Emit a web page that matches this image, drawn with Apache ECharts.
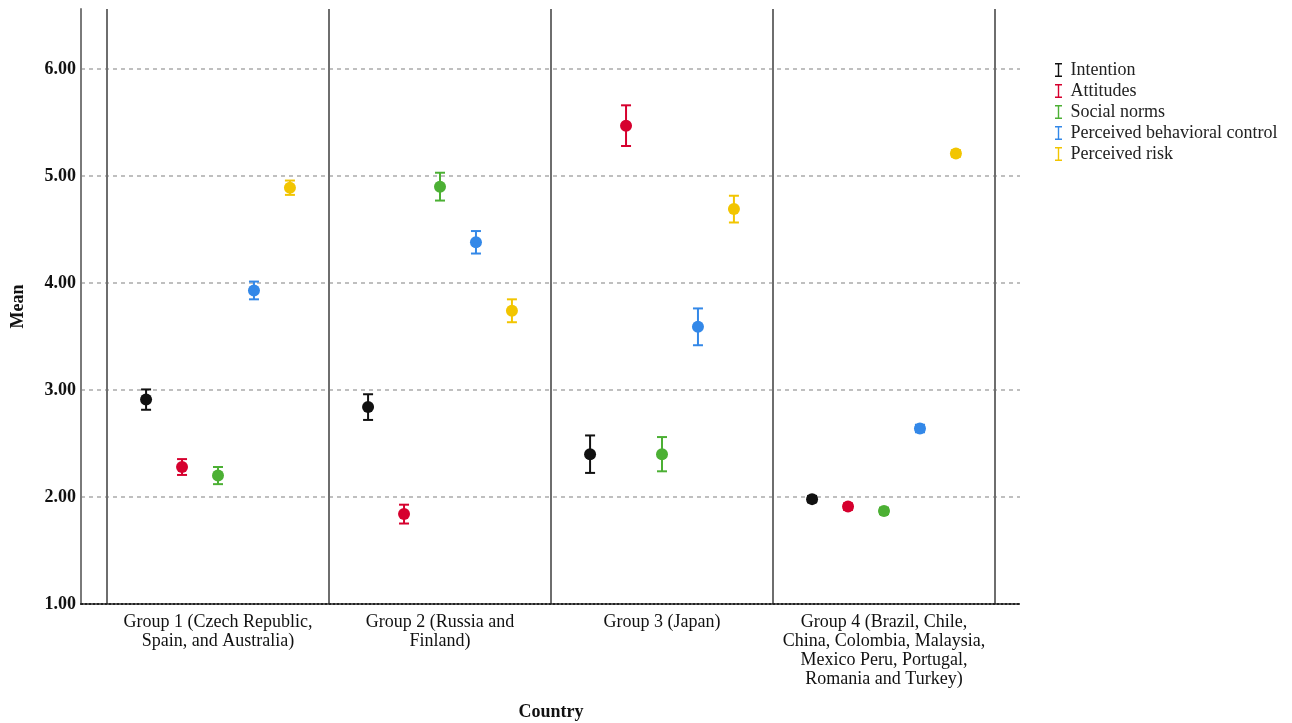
<!DOCTYPE html>
<html>
<head>
<meta charset="utf-8">
<script src="https://cdn.jsdelivr.net/npm/echarts@6/dist/echarts.min.js"></script>
<style>html,body{margin:0;padding:0;background:#fff}#c{width:1292px;height:723px}</style>
</head>
<body>
<div id="c"></div>
<script>
const categories = [
  'Group 1 (Czech Republic,\nSpain, and Australia)',
  'Group 2 (Russia and\nFinland)',
  'Group 3 (Japan)',
  'Group 4 (Brazil, Chile,\nChina, Colombia, Malaysia,\nMexico Peru, Portugal,\nRomania and Turkey)'
];
const seriesNames = ['Intention', 'Attitudes', 'Social norms', 'Perceived behavioral control', 'Perceived risk'];
const seriesColors = ['#111111', '#d6002e', '#4cb034', '#3388e8', '#f2c500'];
// means per series, one value per group
const intentionMean = [2.91, 2.84, 2.40, 1.98];
const attitudesMean = [2.28, 1.84, 5.47, 1.91];
const normsMean = [2.20, 4.90, 2.40, 1.87];
const pbcMean = [3.93, 4.38, 3.59, 2.64];
const riskMean = [4.89, 3.74, 4.69, 5.21];
// half-width of the error bars
const intentionErr = [0.095, 0.12, 0.175, 0.03];
const attitudesErr = [0.074, 0.088, 0.19, 0.03];
const normsErr = [0.08, 0.13, 0.16, 0.03];
const pbcErr = [0.083, 0.105, 0.172, 0.035];
const riskErr = [0.067, 0.107, 0.125, 0.03];
const yTicks = [1, 2, 3, 4, 5, 6];

const means = [intentionMean, attitudesMean, normsMean, pbcMean, riskMean];
const errs = [intentionErr, attitudesErr, normsErr, pbcErr, riskErr];

const serif = 'Liberation Serif';
const chart = echarts.init(document.getElementById('c'), null, {renderer: 'canvas'});

function makeRender(si) {
  return function (params, api) {
    const x = api.value(0);
    const c = api.coord([x, api.value(1)]);
    const lo = api.coord([x, api.value(2)]);
    const hi = api.coord([x, api.value(3)]);
    const bw = api.size([1, 0])[0];
    const dx = (si - 2) * bw * 0.162;
    const cx = c[0] + dx;
    const col = seriesColors[si];
    const cap = 5;
    const ls = {stroke: col, lineWidth: 2, fill: null};
    return {
      type: 'group',
      children: [
        {type: 'line', shape: {x1: cx, y1: hi[1], x2: cx, y2: lo[1]}, style: ls},
        {type: 'line', shape: {x1: cx - cap, y1: hi[1], x2: cx + cap, y2: hi[1]}, style: ls},
        {type: 'line', shape: {x1: cx - cap, y1: lo[1], x2: cx + cap, y2: lo[1]}, style: ls},
        {type: 'circle', shape: {cx: cx, cy: c[1], r: 6}, style: {fill: col}}
      ]
    };
  };
}

const series = seriesNames.map((name, si) => ({
  name: name,
  type: 'custom',
  xAxisIndex: 0,
  yAxisIndex: 0,
  itemStyle: {color: seriesColors[si]},
  renderItem: makeRender(si),
  encode: {x: 0, y: [1, 2, 3]},
  data: categories.map((cat, gi) => [gi, means[si][gi], means[si][gi] - errs[si][gi], means[si][gi] + errs[si][gi]])
}));

const ibeam = 'path://M0,0h8v1.6h-3.2v12.8h3.2v1.6h-8v-1.6h3.2v-12.8h-3.2z';

chart.setOption({
  animation: false,
  legend: {
    orient: 'vertical',
    left: 1050,
    top: 56,
    itemWidth: 8,
    itemHeight: 14,
    itemGap: 3,
    icon: ibeam,
    data: seriesNames,
    textStyle: {fontFamily: serif, fontSize: 18, color: '#222', lineHeight: 18, padding: [0, 0, 0, 3]}
  },
  grid: [
    {left: 107, right: 297, top: 9, bottom: 119, outerBoundsMode: 'none', containLabel: false},
    {left: 81, right: 272, top: 9, bottom: 119, outerBoundsMode: 'none', containLabel: false}
  ],
  xAxis: [
    {
      type: 'category', gridIndex: 0, data: categories,
      axisLine: {show: false}, axisTick: {show: false},
      splitLine: {show: true, lineStyle: {color: '#6e6e6e', width: 2, type: 'solid'}},
      axisLabel: {fontFamily: serif, fontSize: 18, color: '#111', lineHeight: 19, margin: 9, interval: 0},
      name: 'Country', nameLocation: 'middle', nameGap: 99,
      nameTextStyle: {fontFamily: serif, fontSize: 18, fontWeight: 'bold', color: '#111'}
    },
    {
      type: 'value', gridIndex: 1, min: 0, max: 1,
      axisLine: {show: true, onZero: false, lineStyle: {color: '#222', width: 2, type: [2, 2]}},
      axisTick: {show: false}, axisLabel: {show: false}, splitLine: {show: false}
    }
  ],
  yAxis: [
    {
      type: 'value', gridIndex: 0, min: 1, max: 6.56, interval: 1, show: false,
      splitLine: {show: false}
    },
    {
      type: 'value', gridIndex: 1, min: 1, max: 6.56, interval: 1,
      axisLine: {show: true, lineStyle: {color: '#7a7a7a', width: 2}},
      axisTick: {show: false},
      axisLabel: {
        fontFamily: serif, fontSize: 18, fontWeight: 'bold', color: '#111', margin: 5,
        showMaxLabel: false,
        formatter: v => (yTicks.indexOf(v) >= 0 ? v.toFixed(2) : '')
      },
      splitLine: {show: true, showMinLine: false, showMaxLine: false, lineStyle: {color: '#aaaaaa', width: 1.5, type: [4, 4]}},
      name: 'Mean', nameLocation: 'middle', nameGap: 54, nameRotate: 90,
      nameTextStyle: {fontFamily: serif, fontSize: 18, fontWeight: 'bold', color: '#111'}
    }
  ],
  series: series
});
</script>
</body>
</html>
